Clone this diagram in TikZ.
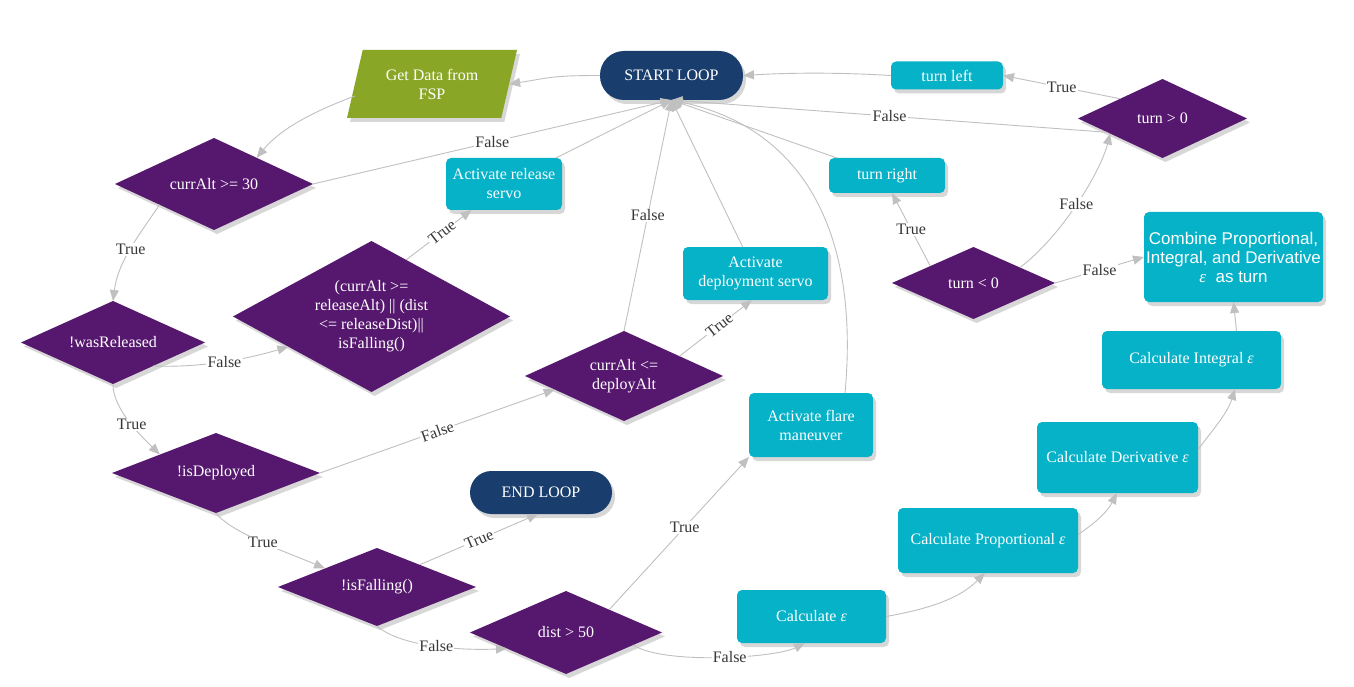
\documentclass[tikz,border=0pt]{standalone}
\usepackage{fontspec}
\setmainfont{Liberation Serif}
\newfontfamily\timesf{Liberation Serif}
\newfontfamily\arialf{Liberation Sans}
\usetikzlibrary{shapes.geometric,arrows.meta,shadows,calc}
\definecolor{dpurple}{RGB}{86,24,110}
\definecolor{dteal}{RGB}{6,178,200}
\definecolor{dnavy}{RGB}{25,62,110}
\definecolor{dgreen}{RGB}{138,166,38}
\definecolor{egray}{RGB}{192,192,192}
\definecolor{labc}{RGB}{55,55,55}
\begin{document}
\begin{tikzpicture}[x=1pt,y=-1pt,
  font=\timesf\fontsize{16}{19}\selectfont,
  shd/.style={drop shadow={shadow xshift=3pt,shadow yshift=-4pt,opacity=0.22,fill=black!70}},
  dia/.style={diamond,fill=dpurple,text=white,align=center,inner sep=-60pt,outer sep=0pt,shd},
  box/.style={rectangle,rounded corners=5pt,fill=dteal,text=white,align=center,inner sep=0pt,outer sep=0pt,shd},
  pill/.style={rectangle,fill=dnavy,text=white,align=center,inner sep=0pt,outer sep=0pt,shd},
  para/.style={trapezium,trapezium left angle=71,trapezium right angle=109,trapezium stretches=true,fill=dgreen,text=white,align=center,inner sep=0pt,outer sep=0pt,shd},
  ed/.style={draw=egray,line width=0.9pt,-{Triangle[length=11pt,width=9pt]}},
  lab/.style={fill=white,text=labc,inner sep=1.2pt,font=\timesf\fontsize{16}{19}\selectfont}
]
\useasboundingbox (0,0) rectangle (1354,687);
\fill[white] (0,0) rectangle (1354,687);

% ---- nodes ----
\node[pill,rounded corners=24pt,minimum width=143pt,minimum height=49pt] (start) at (671.5,75.5) {START LOOP};
\node[para,minimum width=170pt,minimum height=68pt] (gd) at (432,84) {Get Data from\\FSP};
\node[box,minimum width=112pt,minimum height=28pt] (tl) at (947,75.5) {turn left};
\node[dia,minimum width=169pt,minimum height=79pt] (tg) at (1162.5,118.5) {turn > 0};
\node[dia,minimum width=198pt,minimum height=92pt] (d30) at (214,184) {currAlt >= 30};
\node[box,minimum width=116pt,minimum height=52pt] (ars) at (504,184) {Activate release\\servo};
\node[box,minimum width=116pt,minimum height=35pt] (tr) at (887,175.5) {turn right};
\node[dia,minimum width=277pt,minimum height=151pt] (big) at (371.5,316.5) {(currAlt >=\\releaseAlt) || (dist\\<= releaseDist)||\\isFalling()};
\node[dia,minimum width=184pt,minimum height=83pt] (wr) at (113,342.5) {!wasReleased};
\node[box,minimum width=145pt,minimum height=53pt] (ads) at (755.5,273.5) {Activate\\deployment servo};
\node[dia,minimum width=198pt,minimum height=90pt] (cdd) at (624,376) {currAlt <=\\deployAlt};
\node[dia,minimum width=163pt,minimum height=72pt] (tlz) at (973.5,283) {turn < 0};
\node[box,minimum width=179pt,minimum height=90pt,font=\arialf\fontsize{17}{19}\selectfont] (comb) at (1233.5,257) {Combine Proportional,\\Integral, and Derivative\\{\timesf\itshape ε}\ \ as turn};
\node[box,minimum width=179pt,minimum height=58pt] (int) at (1191.5,360) {Calculate Integral {\itshape ε}};
\node[box,minimum width=161pt,minimum height=71pt] (der) at (1117.5,457.5) {Calculate Derivative {\itshape ε}};
\node[box,minimum width=180pt,minimum height=65pt] (prop) at (988,540.5) {Calculate Proportional {\itshape ε}};
\node[box,minimum width=149pt,minimum height=53pt] (ce) at (811.5,616.5) {Calculate {\itshape ε}};
\node[box,minimum width=124pt,minimum height=64pt] (fl) at (811,425) {Activate flare\\maneuver};
\node[dia,minimum width=208pt,minimum height=80pt] (isd) at (216,473) {!isDeployed};
\node[pill,rounded corners=21.5pt,minimum width=142pt,minimum height=43pt] (endl) at (541,492.5) {END LOOP};
\node[dia,minimum width=198pt,minimum height=78pt] (isf) at (377,587) {!isFalling()};
\node[dia,minimum width=192pt,minimum height=83pt] (dist) at (566,632.5) {dist > 50};

% ---- connectors ----
\draw[ed] (start.west) .. controls +(-50,0) and +(40,-6) .. (gd.east);
\draw[ed] ([yshift=-12pt]gd.west) .. controls +(-40,15) and +(25,-30) .. ($(d30.north)!0.43!(d30.east)$);
\draw[ed] (d30.east) -- (start.south) node[lab,pos=0.5]{False};
\draw[ed] ($(d30.west)!0.45!(d30.south)$) .. controls +(-20,30) and +(5,-40) .. (wr.north) node[lab,pos=0.5]{True};
\draw[ed] ($(wr.east)!0.565!(wr.south)$) .. controls +(50,2) and +(-40,12) .. ($(big.west)!0.4!(big.south)$) node[lab,pos=0.5]{False};
\draw[ed] ($(big.north)!0.25!(big.east)$) -- ($(ars.south west)!0.22!(ars.south east)$) node[lab,pos=0.55,sloped]{True};
\draw[ed] (ars) -- (start.south);
\draw[ed] (wr.south) .. controls +(0,25) and +(-20,-20) .. ($(isd.west)!0.46!(isd.north)$) node[lab,pos=0.55]{True};
\draw[ed] (isd.east) -- ($(cdd.west)!0.3!(cdd.south)$) node[lab,pos=0.5,sloped]{False};
\draw[ed] (cdd.north) -- (start.south) node[lab,pos=0.5]{False};
\draw[ed] ($(cdd.north)!0.56!(cdd.east)$) -- ($(ads.south west)!0.476!(ads.south east)$) node[lab,pos=0.55,sloped]{True};
\draw[ed] (ads) -- (start.south);
\draw[ed] (isd.south) .. controls +(15,20) and +(-35,-15) .. ($(isf.west)!0.475!(isf.north)$) node[lab,pos=0.5]{True};
\draw[ed] ($(isf.north)!0.43!(isf.east)$) -- ($(endl.south west)!0.48!(endl.south east)$) node[lab,pos=0.5,sloped]{True};
\draw[ed] (isf.south) .. controls +(25,22) and +(-40,2) .. ($(dist.west)!0.385!(dist.south)$) node[lab,pos=0.5]{False};
\draw[ed] ($(dist.north)!0.45!(dist.east)$) -- (fl.south west) node[lab,pos=0.54]{True};
\draw[ed] ($(dist.east)!0.3!(dist.south)$) .. controls +(30,20) and +(-30,15) .. ($(ce.south west)!0.456!(ce.south east)$) node[lab,pos=0.55]{False};
\draw[ed] ([xshift=34pt]fl.north) .. controls +(15,-163) and +(130,28) .. (start.south);
\draw[ed] (ce.east) .. controls +(45,-8) and +(-25,25) .. ($(prop.south west)!0.483!(prop.south east)$);
\draw[ed] ([yshift=6pt]prop.east) .. controls +(15,-10) and +(-10,20) .. ($(der.south west)!0.496!(der.south east)$);
\draw[ed] ([yshift=8pt]der.east) .. controls +(15,-20) and +(-8,25) .. ($(int.south west)!0.743!(int.south east)$);
\draw[ed] ([xshift=45pt]int.north) -- (comb.south);
\draw[ed] (tlz.east) -- (comb.west) node[lab,pos=0.5]{False};
\draw[ed] ($(tlz.west)!0.47!(tlz.north)$) -- ($(tr.south west)!0.543!(tr.south east)$) node[lab,pos=0.5]{True};
\draw[ed] ($(tlz.north)!0.57!(tlz.east)$) .. controls +(40,-30) and +(-10,40) .. ($(tg.west)!0.38!(tg.south)$) node[lab,pos=0.5]{False};
\draw[ed] ($(tg.west)!0.5!(tg.north)$) -- (tl.east) node[lab,pos=0.5]{True};
\draw[ed] (tl.west) .. controls +(-50,-3) and +(50,-3) .. (start.east);
\draw[ed] ($(tg.west)!0.35!(tg.south)$) -- (start.south) node[lab,pos=0.5]{False};
\draw[ed] (tr) -- (start.south);
\end{tikzpicture}
\end{document}
